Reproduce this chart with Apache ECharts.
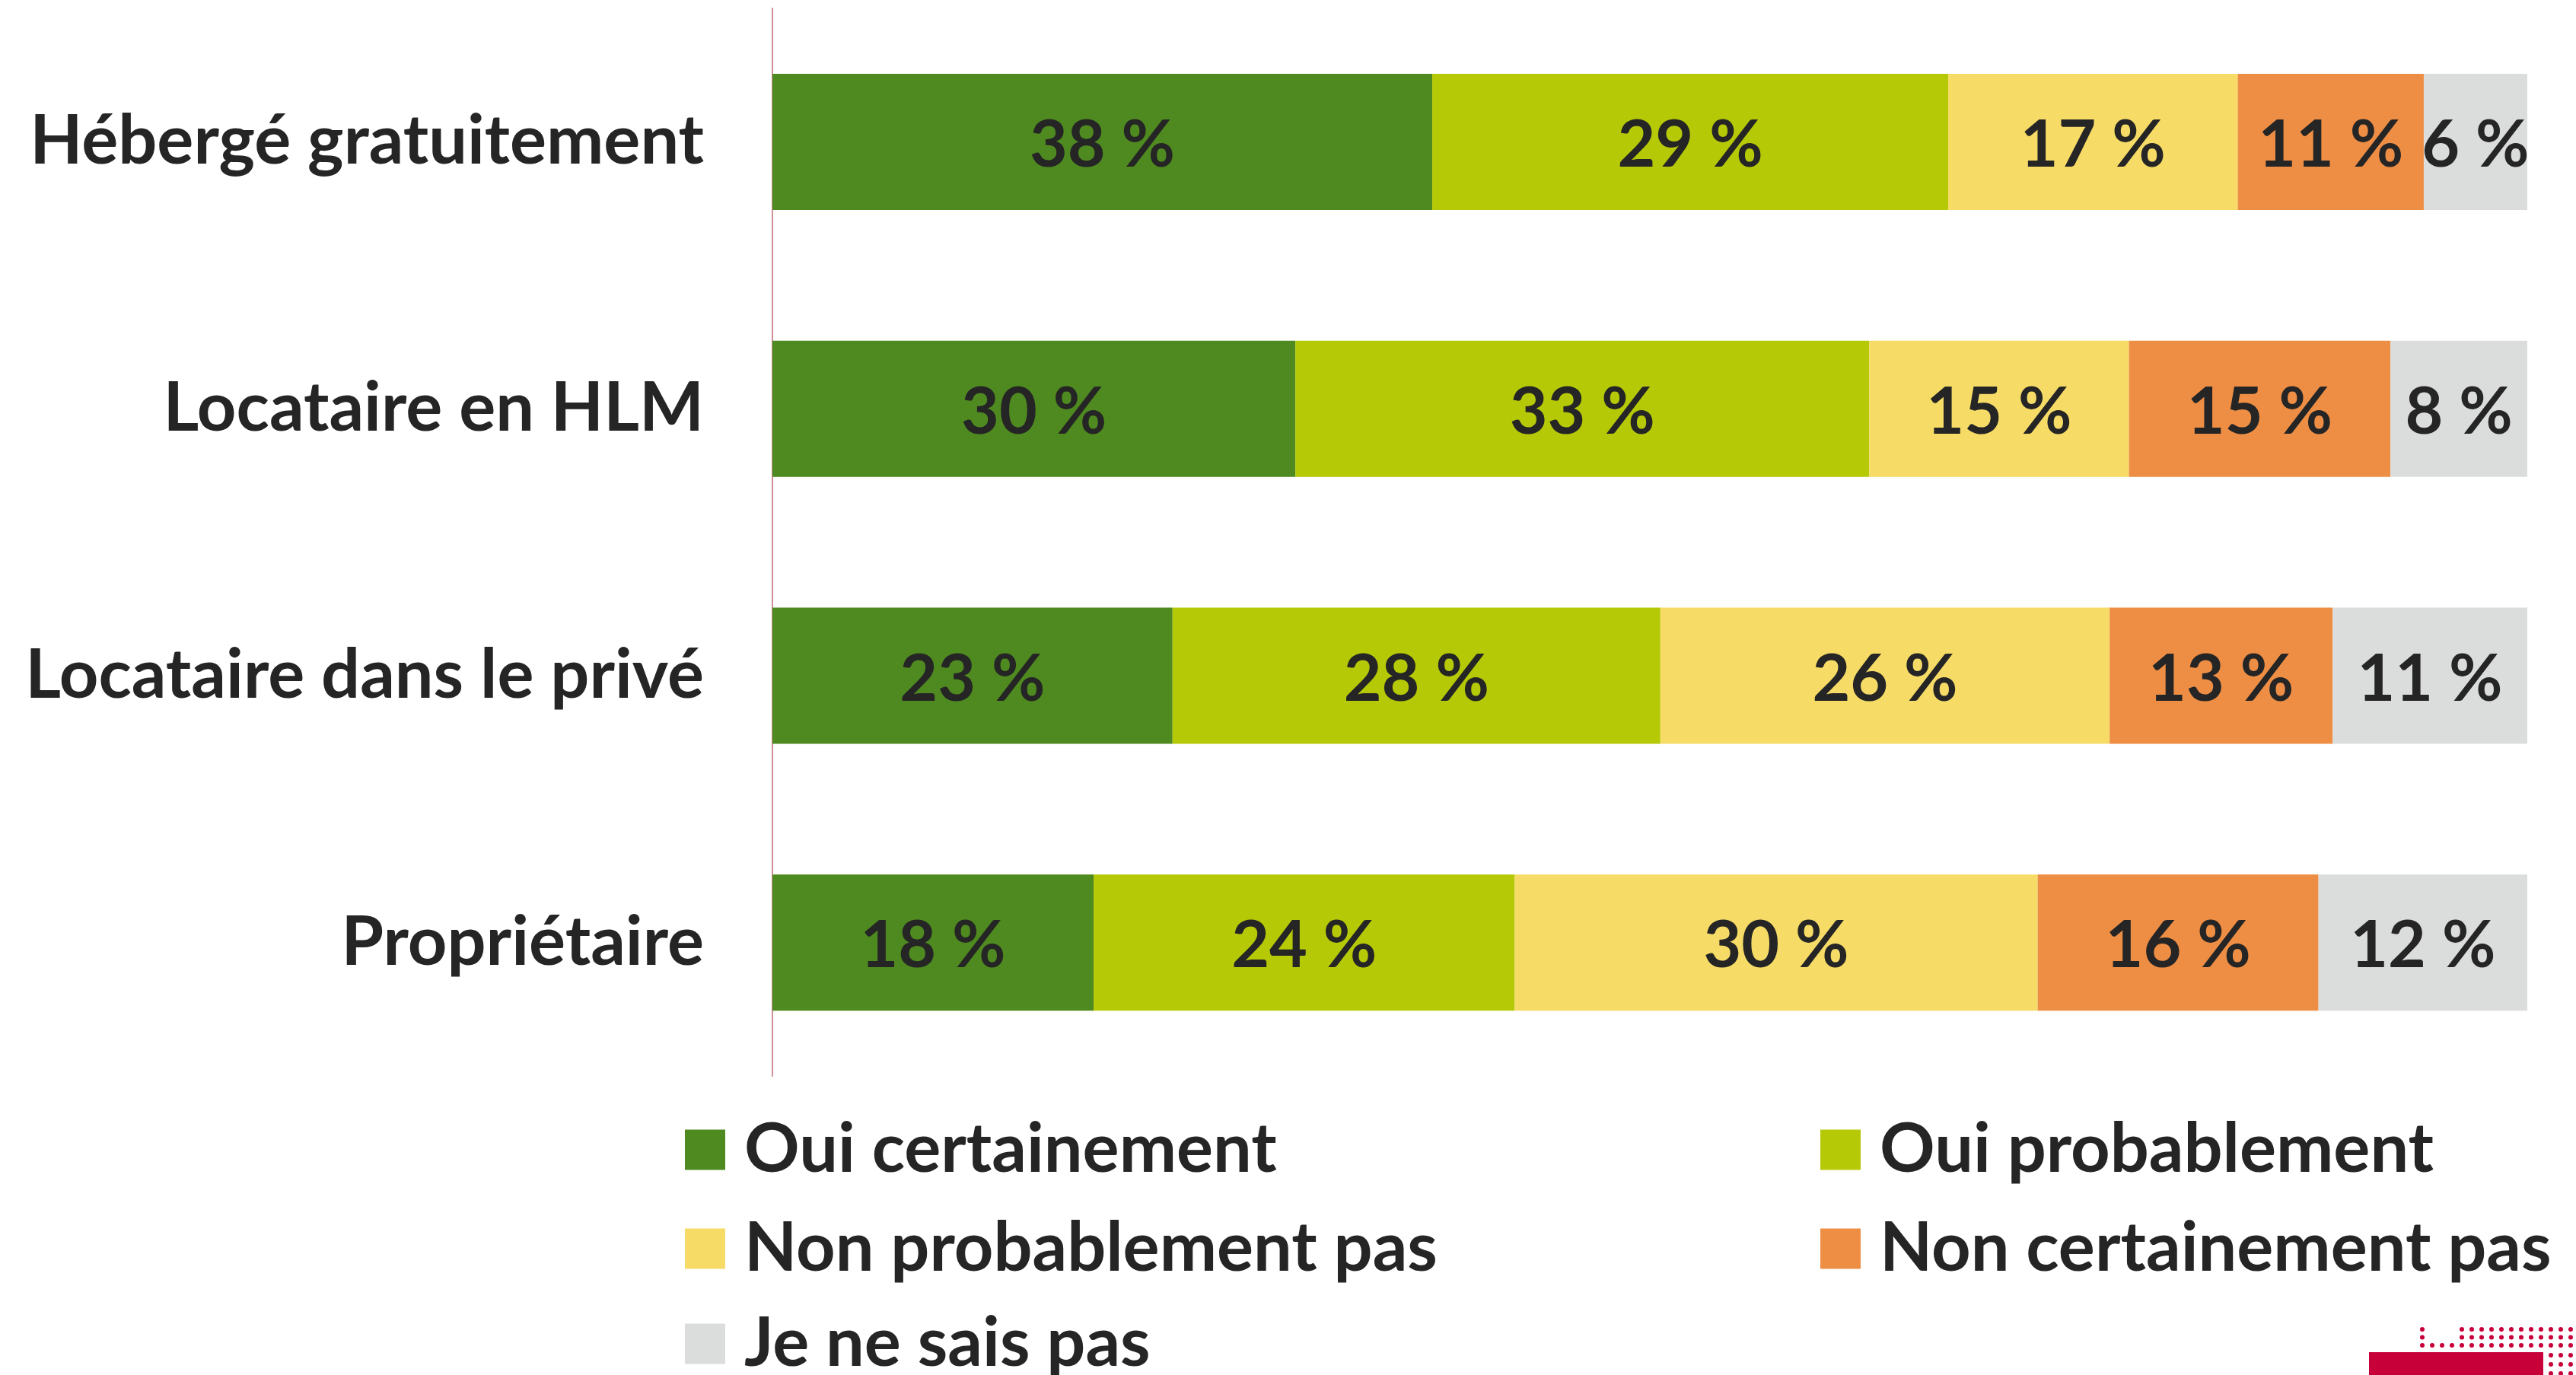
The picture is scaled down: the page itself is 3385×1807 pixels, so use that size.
<!DOCTYPE html>
<html>
<head>
<meta charset="utf-8">
<script src="https://cdn.jsdelivr.net/npm/echarts@6/dist/echarts.min.js"></script>
<style>
  html, body { margin: 0; padding: 0; background: #fff; }
  #chart { width: 3385px; height: 1807px; }
</style>
</head>
<body>
<div id="chart"></div>
<script>
const categories = ['Hébergé gratuitement', 'Locataire en HLM', 'Locataire dans le privé', 'Propriétaire'];
const seriesNames = ['Oui certainement', 'Oui probablement', 'Non probablement pas', 'Non certainement pas', 'Je ne sais pas'];
// share of answers per category (%)
const ouiCertainement = [37.6, 29.8, 22.8, 18.3];
const ouiProbablement = [29.4, 32.7, 27.8, 24.0];
const nonProbablement = [16.5, 14.8, 25.6, 29.8];
const nonCertainement = [10.6, 14.9, 12.7, 16.0];
const neSaitPas = [5.9, 7.8, 11.1, 11.9];
const colors = ['#4f8a20', '#b6c907', '#f6dc66', '#ee8e45', '#dbdddc'];

const chart = echarts.init(document.getElementById('chart'));
const font = 'Lato';
const textColor = '#252525';

const seriesData = [ouiCertainement, ouiProbablement, nonProbablement, nonCertainement, neSaitPas];

// logo dots in the bottom right corner
const logo = [];
for (let r = 0; r < 3; r++) {
  for (let c = 0; c < 16; c++) {
    if (r < 2 && c >= 1 && c <= 3) continue;
    logo.push({ type: 'circle', shape: { cx: 3183 + c * 13, cy: 1747 + r * 10.5, r: 3 }, style: { fill: '#c8003a' } });
  }
}
for (let r = 0; r < 3; r++) {
  for (let c = 13; c < 16; c++) {
    logo.push({ type: 'circle', shape: { cx: 3183 + c * 13, cy: 1781 + r * 12, r: 3 }, style: { fill: '#c8003a' } });
  }
}
logo.push({ type: 'rect', shape: { x: 3113, y: 1777, width: 229, height: 30 }, style: { fill: '#c8003a' } });

// legend: two columns, one legend box per entry
const legendPos = [[900, 1511], [2392, 1511], [900, 1641], [2392, 1641], [900, 1766]];
const legends = seriesNames.map((name, i) => ({
  data: [name],
  left: legendPos[i][0],
  top: legendPos[i][1] - 45,
  padding: 0,
  icon: 'rect', itemWidth: 53, itemHeight: 53,
  selectedMode: false,
  textStyle: { fontFamily: font, fontWeight: 'bold', fontSize: 90, color: textColor, lineHeight: 90, padding: [0, 0, 0, 20] }
}));

const option = {
  backgroundColor: '#fff',
  animation: false,
  color: colors,
  grid: { left: 1015, right: 64, top: 11, bottom: 393, containLabel: false },
  legend: legends,
  xAxis: {
    type: 'value', min: 0, max: 100,
    show: false
  },
  yAxis: {
    type: 'category',
    data: categories,
    inverse: true,
    axisLine: { show: true, lineStyle: { color: '#cf8d96', width: 2 } },
    axisTick: { show: false },
    axisLabel: { fontFamily: font, fontWeight: 'bold', fontSize: 90, color: textColor, margin: 90 }
  },
  series: seriesNames.map((name, i) => ({
    name: name,
    type: 'bar',
    stack: 'total',
    barWidth: 179,
    data: seriesData[i],
    itemStyle: { color: colors[i] },
    label: {
      show: true,
      position: 'inside',
      offset: [0, 5],
      formatter: p => Math.round(p.value) + ' %',
      fontFamily: font, fontWeight: 'bold', fontSize: 86, color: textColor
    }
  })),
  graphic: logo
};

chart.setOption(option);
</script>
</body>
</html>
